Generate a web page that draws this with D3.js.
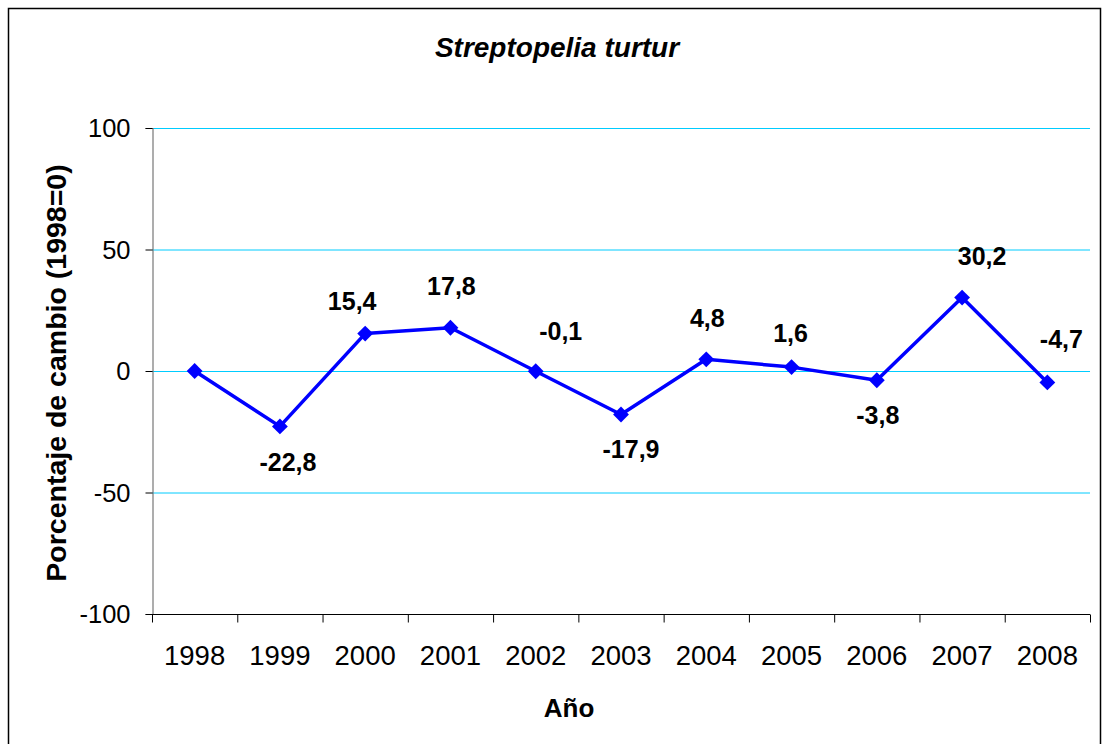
<!DOCTYPE html>
<html>
<head>
<meta charset="utf-8">
<script src="https://d3js.org/d3.v7.min.js"></script>
<style>
  html, body { margin: 0; padding: 0; background: #fff; }
  svg { display: block; font-family: Arial, "Liberation Sans", sans-serif; }
</style>
</head>
<body>
<svg id="chart" width="1102" height="744"></svg>
<script>
// Annual change in abundance, Streptopelia turtur (1998 = 0)
const years = ["1998", "1999", "2000", "2001", "2002", "2003", "2004", "2005", "2006", "2007", "2008"];
const values = [0, -22.8, 15.4, 17.8, -0.1, -17.9, 4.8, 1.6, -3.8, 30.2, -4.7];
const labels = [null, "-22,8", "15,4", "17,8", "-0,1", "-17,9", "4,8", "1,6", "-3,8", "30,2", "-4,7"];
const yTicks = [-100, -50, 0, 50, 100];

// hand-placed label nudges relative to each marker [dx, dy of baseline]
const labelNudge = [null, [8, 45], [-13, -24], [1, -33], [25, -31], [10, 44], [1, -32], [-1, -25], [1, 44], [20, -33], [14, -34]];

const FONT = "Arial, 'Liberation Sans', sans-serif";
const svg = d3.select("#chart");
const plotLeft = 152, plotRight = 1090, plotTop = 128, plotBottom = 614;

// outer frame
svg.append("rect")
  .attr("x", 8.5).attr("y", 8.5)
  .attr("width", 1092).attr("height", 760)
  .attr("fill", "none").attr("stroke", "#000").attr("stroke-width", 1.5);

const x = d3.scaleBand().domain(years).range([plotLeft, plotRight]).padding(0);
const y = d3.scaleLinear().domain([-100, 100]).range([plotBottom, plotTop]);

// horizontal gridlines
svg.append("g").selectAll("line")
  .data(yTicks.filter(t => t !== -100))
  .join("line")
  .attr("x1", plotLeft).attr("x2", plotRight)
  .attr("y1", d => y(d) + 0.5).attr("y2", d => y(d) + 0.5)
  .attr("stroke", "#00ccff").attr("stroke-width", 1);

// y axis
const yAxis = svg.append("g")
  .attr("transform", `translate(${plotLeft + 0.5},0)`)
  .call(d3.axisLeft(y).tickValues(yTicks).tickSize(7).tickPadding(15).tickFormat(d => String(d)));
yAxis.select(".domain").attr("stroke", "#777").attr("stroke-width", 1.2);
yAxis.selectAll(".tick line").attr("stroke", "#000");
yAxis.selectAll(".tick text")
  .attr("font-size", 25.5).attr("fill", "#000").attr("font-family", FONT).attr("dy", "0.34em");

// x axis with ticks between categories
const xAxisG = svg.append("g").attr("transform", `translate(0,${plotBottom + 0.5})`);
xAxisG.append("line").attr("x1", plotLeft).attr("x2", plotRight).attr("stroke", "#000").attr("stroke-width", 1.2);
const tickPos = years.map(d => x(d)).concat([plotRight]);
xAxisG.selectAll("line.tk").data(tickPos).join("line").attr("class", "tk")
  .attr("x1", d => d + 0.5).attr("x2", d => d + 0.5)
  .attr("y1", 0).attr("y2", 8).attr("stroke", "#000");
xAxisG.selectAll("text").data(years).join("text")
  .attr("x", d => x(d) + x.bandwidth() / 2)
  .attr("y", 50)
  .attr("text-anchor", "middle")
  .attr("font-size", 27.5)
  .text(d => d);

// line and markers
const cx = (d, i) => x(years[i]) + x.bandwidth() / 2;
const line = d3.line().x(cx).y(d => y(d));
svg.append("path").datum(values)
  .attr("d", line)
  .attr("fill", "none").attr("stroke", "#0000ff").attr("stroke-width", 3.5).attr("stroke-linejoin", "round");

svg.append("g").selectAll("path")
  .data(values).join("path")
  .attr("d", d3.symbol().type(d3.symbolSquare).size(125))
  .attr("transform", (d, i) => `translate(${cx(d, i)},${y(d)}) rotate(45)`)
  .attr("fill", "#0000ff");

// value labels
svg.append("g").selectAll("text")
  .data(values.map((v, i) => ({ v, i })).filter(d => labels[d.i] !== null))
  .join("text")
  .attr("x", d => cx(d.v, d.i) + labelNudge[d.i][0])
  .attr("y", d => y(d.v) + labelNudge[d.i][1])
  .attr("text-anchor", "middle")
  .attr("font-size", 25).attr("font-weight", "bold")
  .text(d => labels[d.i]);

// titles
svg.append("text").attr("x", 557).attr("y", 57).attr("text-anchor", "middle")
  .attr("font-size", 28).attr("font-style", "italic").attr("font-weight", "bold")
  .text("Streptopelia turtur");

svg.append("text").attr("x", 569).attr("y", 717).attr("text-anchor", "middle")
  .attr("font-size", 26).attr("font-weight", "bold").text("Año");

svg.append("text")
  .attr("transform", `translate(66,${(plotTop + plotBottom) / 2 + 2}) rotate(-90)`)
  .attr("text-anchor", "middle")
  .attr("font-size", 28.5).attr("font-weight", "bold")
  .text("Porcentaje de cambio (1998=0)");
</script>
</body>
</html>
